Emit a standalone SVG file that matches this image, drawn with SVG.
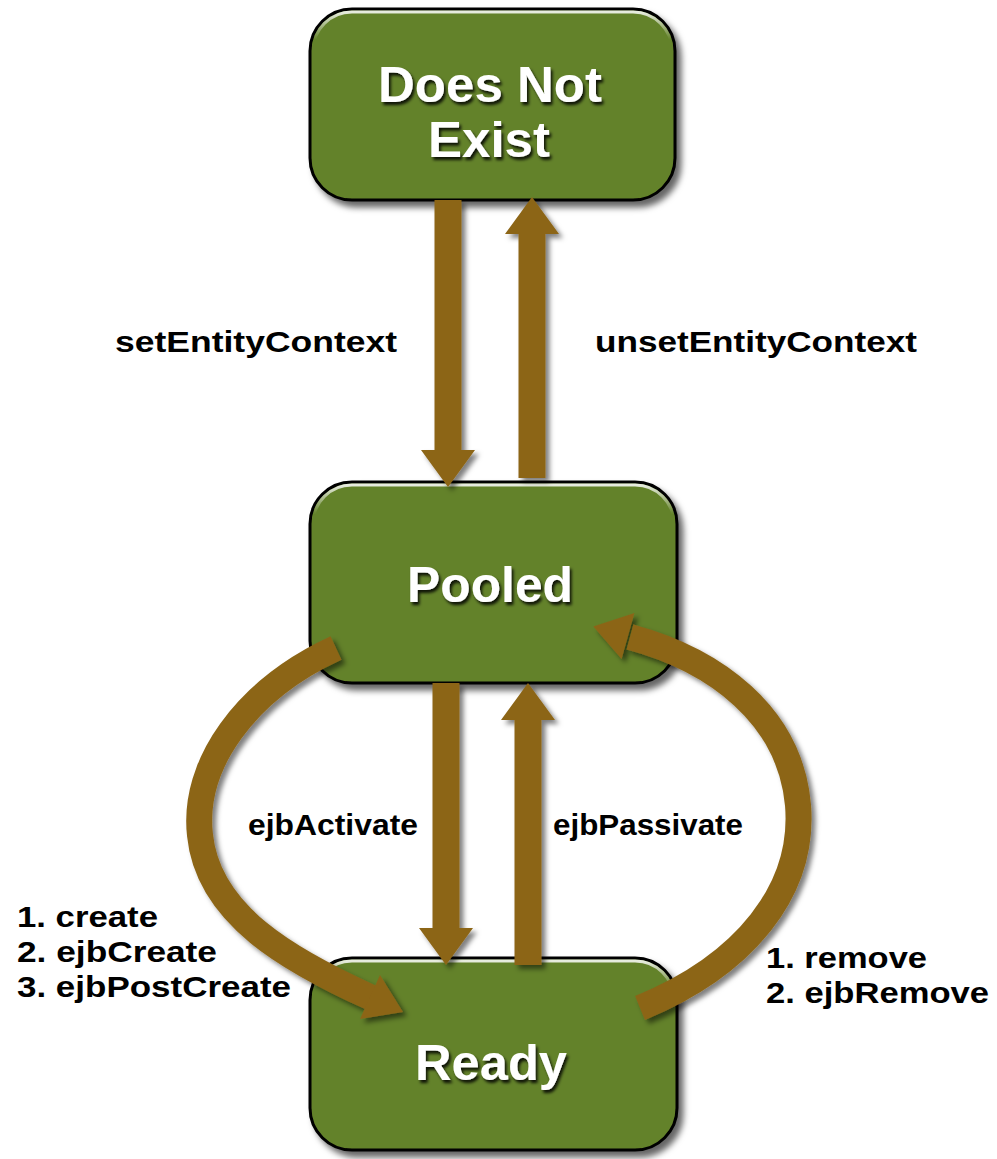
<svg xmlns="http://www.w3.org/2000/svg" width="997" height="1159" viewBox="0 0 997 1159">
<style>
.box{fill:#64822a;stroke:#000;stroke-width:3}
.hl{fill:none;stroke:url(#hlg);stroke-width:3}
.ntext{font-family:"Liberation Sans",Arial,sans-serif;font-weight:bold;font-size:50px;fill:#fff;text-anchor:middle}
.lbl{font-family:"Liberation Sans",Arial,sans-serif;font-weight:bold;font-size:30px;fill:#000}
.arr{fill:#8c6519}
.carr{fill:none;stroke:#8c6519;stroke-width:26;stroke-linecap:butt}
</style>
<defs>
<filter id="bsh" x="-10%" y="-10%" width="125%" height="130%">
<feDropShadow dx="5" dy="6" stdDeviation="3" flood-color="#000" flood-opacity="0.6"/>
</filter>
<filter id="ash" x="-20%" y="-20%" width="140%" height="140%">
<feDropShadow dx="4" dy="4" stdDeviation="2.5" flood-color="#000" flood-opacity="0.5"/>
</filter>
<filter id="tsh" x="-10%" y="-20%" width="120%" height="150%">
<feDropShadow dx="2" dy="3" stdDeviation="1.8" flood-color="#000" flood-opacity="0.85"/>
</filter>
<linearGradient id="hlg" x1="0" y1="0" x2="0" y2="1">
<stop offset="0" stop-color="#fff" stop-opacity="0.85"/>
<stop offset="0.15" stop-color="#fff" stop-opacity="0"/>
</linearGradient>
</defs>
<rect width="997" height="1159" fill="#fff"/>

<g id="node-does-not-exist">
<rect class="box" x="310" y="9" width="365" height="191" rx="42" filter="url(#bsh)"/>
<rect class="hl" x="313" y="12" width="359" height="185" rx="39"/>
<text class="ntext" x="490" y="102" textLength="224" lengthAdjust="spacingAndGlyphs" filter="url(#tsh)">Does Not</text>
<text class="ntext" x="489" y="157" textLength="122" lengthAdjust="spacingAndGlyphs" filter="url(#tsh)">Exist</text>
</g>

<g id="node-pooled">
<rect class="box" x="310" y="482" width="367" height="201" rx="42" filter="url(#bsh)"/>
<rect class="hl" x="313" y="485" width="361" height="195" rx="39"/>
<text class="ntext" x="490" y="602" textLength="166" lengthAdjust="spacingAndGlyphs" filter="url(#tsh)">Pooled</text>
</g>

<g id="node-ready">
<rect class="box" x="310" y="958" width="367" height="192" rx="42" filter="url(#bsh)"/>
<rect class="hl" x="313" y="961" width="361" height="186" rx="39"/>
<text class="ntext" x="491" y="1080" textLength="152" lengthAdjust="spacingAndGlyphs" filter="url(#tsh)">Ready</text>
</g>

<g id="connectors" filter="url(#ash)">
<polygon class="arr" points="434.5,200 461.5,200 461.5,450 475,450 448,487 421,450 434.5,450"/>
<polygon class="arr" points="518.5,478 545.5,478 545.5,234 559,234 532,197 505,234 518.5,234"/>
<polygon class="arr" points="432.5,683 459.5,683 459.5,928 473,928 446,965 419,928 432.5,928"/>
<polygon class="arr" points="514.5,965 541.5,965 541.5,720 555,720 528,683 501,720 514.5,720"/>
<path class="carr" d="M 336 648 C 245 690, 192 765, 200 835 C 208 915, 290 961, 372 998"/>
<polygon class="arr" points="380,975 403,1012 360,1019"/>
<path class="carr" d="M 640 1008 C 745 965, 805 890, 798 805 C 790 715, 715 660, 630 637"/>
<polygon class="arr" points="634.4,612.9 593.3,626.4 621.6,659.1"/>
</g>

<g id="labels">
<text class="lbl" x="115" y="352" textLength="282" lengthAdjust="spacingAndGlyphs">setEntityContext</text>
<text class="lbl" x="595" y="352" textLength="322" lengthAdjust="spacingAndGlyphs">unsetEntityContext</text>
<text class="lbl" x="248" y="835" font-size="28" textLength="170" lengthAdjust="spacingAndGlyphs">ejbActivate</text>
<text class="lbl" x="553" y="835" font-size="28" textLength="190" lengthAdjust="spacingAndGlyphs">ejbPassivate</text>
<text class="lbl" x="17" y="927" textLength="141" lengthAdjust="spacingAndGlyphs">1. create</text>
<text class="lbl" x="17" y="962" textLength="200" lengthAdjust="spacingAndGlyphs">2. ejbCreate</text>
<text class="lbl" x="17" y="997" textLength="274" lengthAdjust="spacingAndGlyphs">3. ejbPostCreate</text>
<text class="lbl" x="766" y="968" textLength="161" lengthAdjust="spacingAndGlyphs">1. remove</text>
<text class="lbl" x="766" y="1003" textLength="223" lengthAdjust="spacingAndGlyphs">2. ejbRemove</text>
</g>
</svg>
